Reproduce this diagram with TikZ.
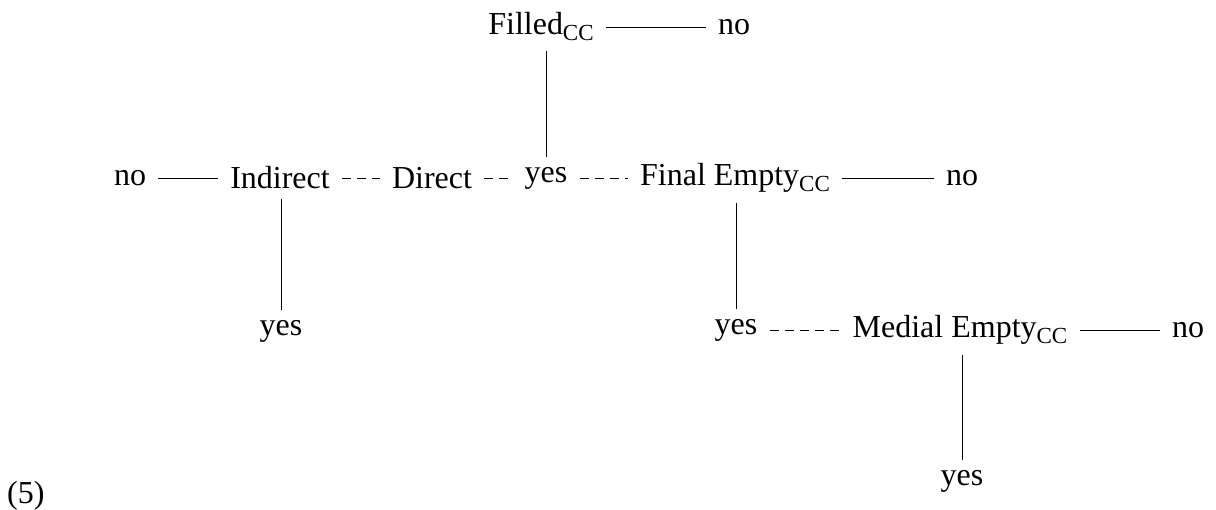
\documentclass[tikz,border=0pt]{standalone}
\usepackage{fontspec}
\setmainfont{Liberation Serif}
\newcommand\ccsub{\raisebox{-6pt}{\fontsize{23}{23}\selectfont CC}}
\begin{document}
\begin{tikzpicture}[x=1pt,y=-1pt]
\tikzset{
  lbl/.style={font=\fontsize{32}{38}\selectfont, inner xsep=12pt, inner ysep=10pt},
  solidline/.style={line width=1pt},
  dashline/.style={line width=1pt, dash pattern=on 9pt off 6pt}
}
\useasboundingbox (0,0) rectangle (1216,509);
\node[lbl] (filled) at (541,27) {Filled\ccsub};
\node[lbl] (no1) at (734,27) {no};
\node[lbl] (no2) at (130,178) {no};
\node[lbl] (ind) at (280,178) {Indirect};
\node[lbl] (dir) at (432,178) {Direct};
\node[lbl] (yes1) at (546,178) {yes};
\node[lbl] (fin) at (735,178) {Final Empty\ccsub};
\node[lbl] (no3) at (962,178) {no};
\node[lbl] (yes2) at (281,331) {yes};
\node[lbl] (yes3) at (736,330) {yes};
\node[lbl] (med) at (960,330) {Medial Empty\ccsub};
\node[lbl] (no4) at (1188,330) {no};
\node[lbl] (yes4) at (962,481) {yes};
\node[lbl, anchor=base west, inner sep=0pt] (ex) at (7,503) {(5)};

\draw[solidline] (filled) -- (no1);
\draw[solidline] (yes1 |- filled.south) -- (yes1);
\draw[solidline] (no2) -- (ind);
\draw[dashline] (ind) -- (dir);
\draw[dashline] (dir) -- (yes1);
\draw[dashline] (yes1) -- (fin);
\draw[solidline] (fin) -- (no3);
\draw[solidline] (yes2 |- ind.south) -- (yes2);
\draw[solidline] (yes3 |- fin.south) -- (yes3);
\draw[dashline] (yes3) -- (med);
\draw[solidline] (med) -- (no4);
\draw[solidline] (yes4 |- med.south) -- (yes4);
\end{tikzpicture}
\end{document}
